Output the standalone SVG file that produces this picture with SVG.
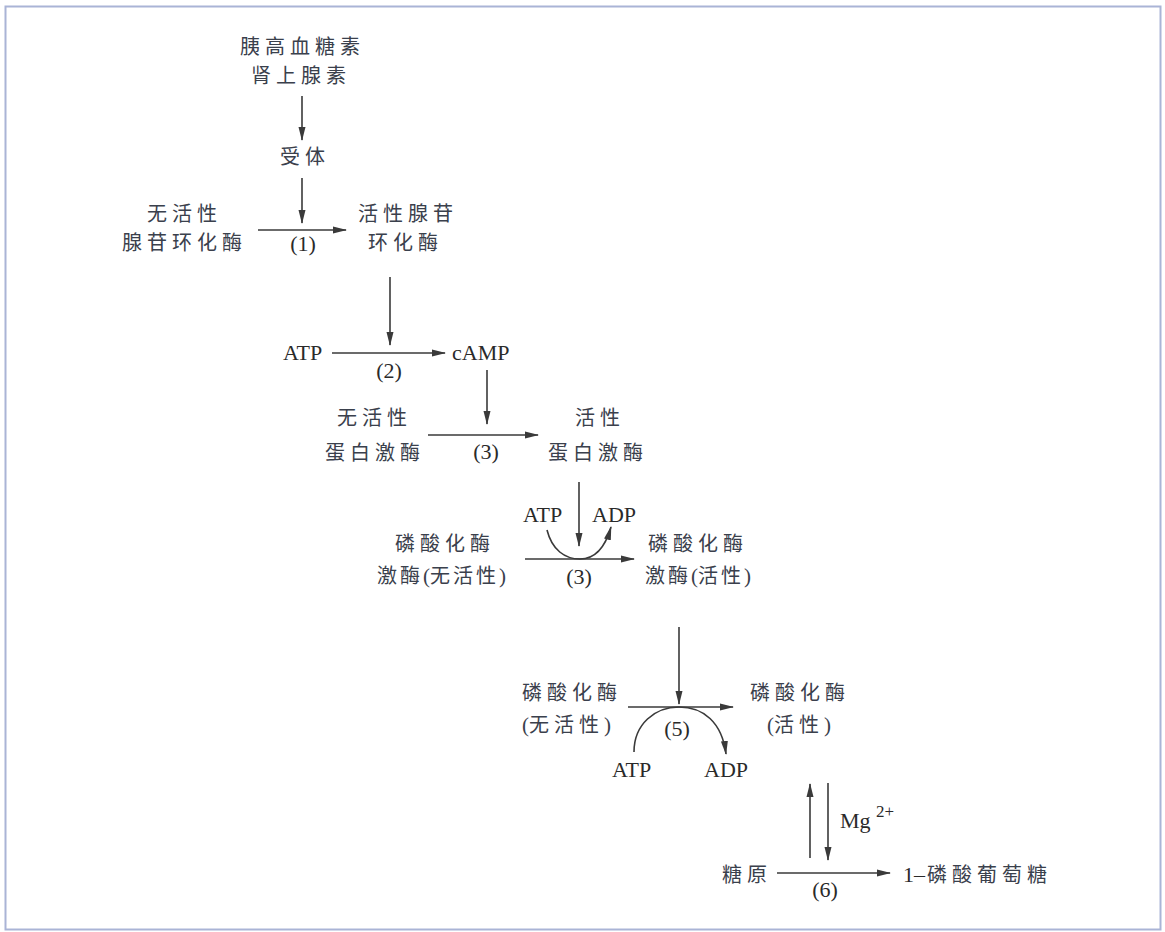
<svg xmlns="http://www.w3.org/2000/svg" width="1165" height="932" viewBox="0 0 1165 932">
<style>
.cjk{font-family:"Noto Sans CJK SC","Noto Sans CJK JP",sans-serif;font-size:20px;letter-spacing:5px;fill:#3a404c}
.lat{font-family:"Liberation Serif",serif;font-size:22px;fill:#2a2a2a}
.par{font-family:"Liberation Serif",serif;letter-spacing:0;font-size:21px}
.ln{stroke:#3a3a3a;stroke-width:1.6;fill:none}
</style>
<defs>
<marker id="ah" markerUnits="userSpaceOnUse" markerWidth="14" markerHeight="10" viewBox="0 0 14 10" refX="13" refY="5" orient="auto">
<path d="M0,1.5 L14,5 L0,8.5 Z" fill="#3a3a3a"/>
</marker>
</defs>
<rect x="0" y="0" width="1165" height="932" fill="#ffffff"/>
<rect x="5.5" y="6.5" width="1155" height="923" fill="none" stroke="#aab4d6" stroke-width="2"/>

<g id="hormones">
<text class="cjk" x="240" y="54">胰高血糖素</text>
<text class="cjk" x="251" y="83">肾上腺素</text>
</g>
<g id="receptor"><text class="cjk" x="280" y="164">受体</text></g>
<g id="ac-inactive">
<text class="cjk" x="147" y="221">无活性</text>
<text class="cjk" x="122" y="250">腺苷环化酶</text>
</g>
<g id="ac-active">
<text class="cjk" x="358" y="221">活性腺苷</text>
<text class="cjk" x="368" y="250">环化酶</text>
</g>
<g id="atp1"><text class="lat" x="283" y="360">ATP</text></g>
<g id="camp"><text class="lat" x="452" y="360">cAMP</text></g>
<g id="pk-inactive">
<text class="cjk" x="337" y="425">无活性</text>
<text class="cjk" x="325" y="460">蛋白激酶</text>
</g>
<g id="pk-active">
<text class="cjk" x="575" y="425">活性</text>
<text class="cjk" x="548" y="460">蛋白激酶</text>
</g>
<g id="pbk-inactive">
<text class="cjk" x="395" y="551">磷酸化酶</text>
<text class="cjk" x="377" y="583" style="letter-spacing:3px">激酶<tspan class="par">(</tspan>无活性<tspan class="par">)</tspan></text>
</g>
<g id="pbk-active">
<text class="cjk" x="648" y="551">磷酸化酶</text>
<text class="cjk" x="645" y="583" style="letter-spacing:3px">激酶<tspan class="par">(</tspan>活性<tspan class="par">)</tspan></text>
</g>
<g id="atp3"><text class="lat" x="523" y="522">ATP</text></g>
<g id="adp3"><text class="lat" x="592" y="522">ADP</text></g>
<g id="pp-inactive">
<text class="cjk" x="522" y="700">磷酸化酶</text>
<text class="cjk" x="522" y="732"><tspan class="par">(</tspan>无活性<tspan class="par">)</tspan></text>
</g>
<g id="pp-active">
<text class="cjk" x="750" y="700">磷酸化酶</text>
<text class="cjk" x="767" y="732"><tspan class="par">(</tspan>活性<tspan class="par">)</tspan></text>
</g>
<g id="atp5"><text class="lat" x="612" y="777">ATP</text></g>
<g id="adp5"><text class="lat" x="704" y="777">ADP</text></g>
<g id="mg"><text class="lat" x="840" y="828">Mg<tspan x="876" y="817" font-size="17">2+</tspan></text></g>
<g id="glycogen"><text class="cjk" x="722" y="882">糖原</text></g>
<g id="g1p"><text class="lat" x="903" y="882">1–</text><text class="cjk" x="927" y="882">磷酸葡萄糖</text></g>

<g id="labels">
<text class="lat" x="303" y="251" text-anchor="middle">(1)</text>
<text class="lat" x="389" y="378" text-anchor="middle">(2)</text>
<text class="lat" x="486" y="459" text-anchor="middle">(3)</text>
<text class="lat" x="579" y="584" text-anchor="middle">(3)</text>
<text class="lat" x="677" y="736" text-anchor="middle">(5)</text>
<text class="lat" x="825" y="897" text-anchor="middle">(6)</text>
</g>

<g id="connectors">
<line class="ln" x1="302" y1="96" x2="302" y2="140" marker-end="url(#ah)"/>
<line class="ln" x1="302" y1="178" x2="302" y2="223" marker-end="url(#ah)"/>
<line class="ln" x1="258" y1="230" x2="346" y2="230" marker-end="url(#ah)"/>
<line class="ln" x1="390" y1="277" x2="390" y2="345" marker-end="url(#ah)"/>
<line class="ln" x1="332" y1="353" x2="445" y2="353" marker-end="url(#ah)"/>
<line class="ln" x1="487" y1="370" x2="487" y2="424" marker-end="url(#ah)"/>
<line class="ln" x1="428" y1="435" x2="538" y2="435" marker-end="url(#ah)"/>
<line class="ln" x1="579" y1="482" x2="579" y2="546" marker-end="url(#ah)"/>
<line class="ln" x1="525" y1="559" x2="634" y2="559" marker-end="url(#ah)"/>
<path class="ln" d="M547,530 C552,550 565,559 580,559 C595,559 605,548 611,527" marker-end="url(#ah)"/>
<line class="ln" x1="679" y1="627" x2="679" y2="704" marker-end="url(#ah)"/>
<line class="ln" x1="628" y1="707" x2="733" y2="707" marker-end="url(#ah)"/>
<path class="ln" d="M634,752 C634,724 655,707 679,707 C703,707 722,722 726,754" marker-end="url(#ah)"/>
<line class="ln" x1="810" y1="858" x2="810" y2="784" marker-end="url(#ah)"/>
<line class="ln" x1="828" y1="783" x2="828" y2="860" marker-end="url(#ah)"/>
<line class="ln" x1="777" y1="873" x2="890" y2="873" marker-end="url(#ah)"/>
</g>
</svg>
